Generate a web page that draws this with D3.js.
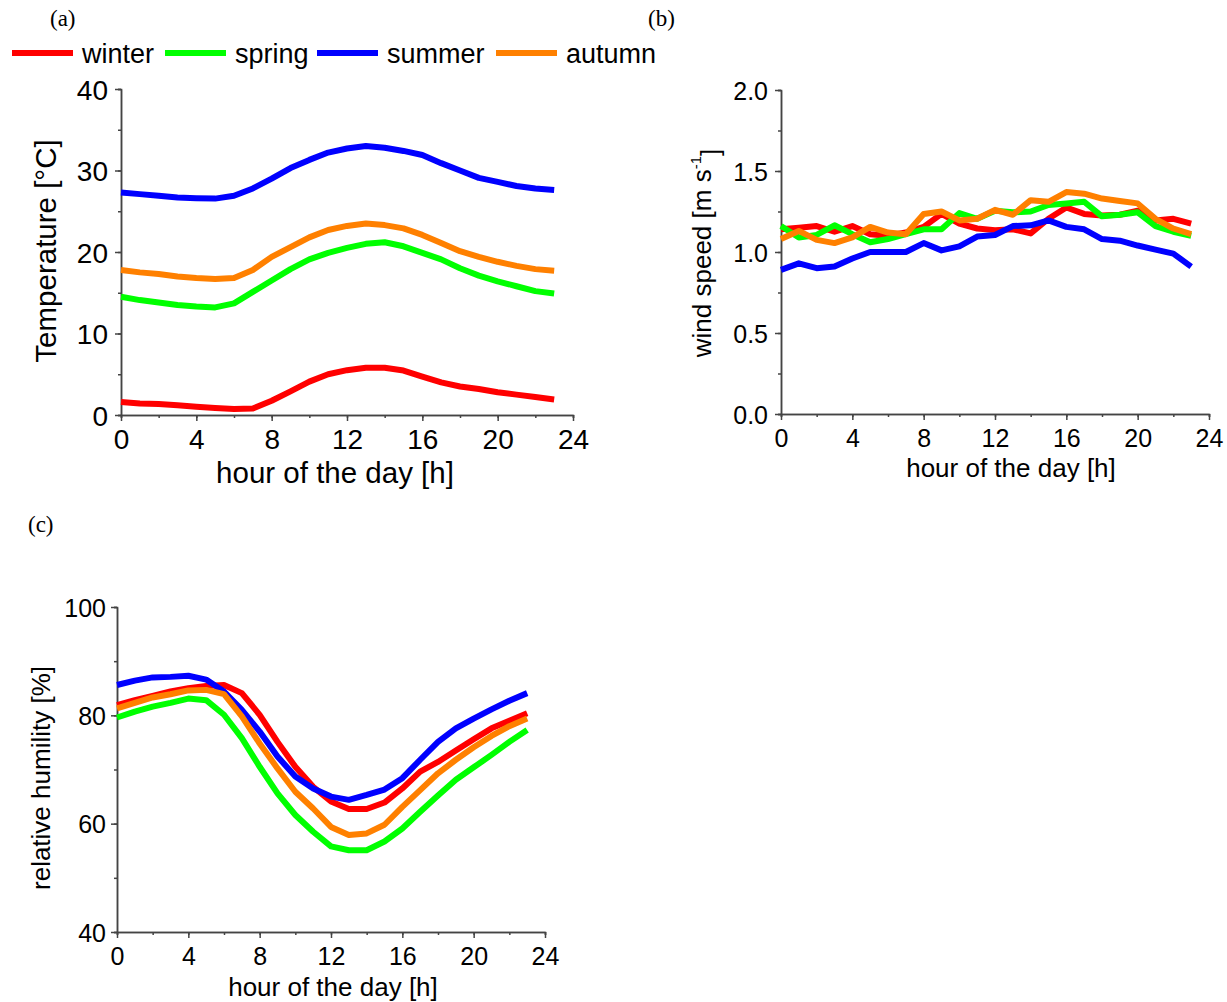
<!DOCTYPE html>
<html>
<head>
<meta charset="utf-8">
<script src="https://cdn.jsdelivr.net/npm/d3@7"></script>
<style>
  body { margin: 0; background: #fff; }
  svg { display: block; }
  text { font-family: "Liberation Sans", Arial, sans-serif; fill: #000; }
  .panel-label { font-family: "Liberation Serif", "Times New Roman", serif; }
</style>
</head>
<body>
<div id="chart"></div>
<script>
// seasons + colours
const seasons = ["winter", "spring", "summer", "autumn"];
const seasonColors = ["#ff0000", "#00ff00", "#0000ff", "#ff8000"];

const hours = d3.range(0, 24);
const hourTicks = [0, 4, 8, 12, 16, 20, 24];

// (a) temperature [°C]
const tempWinter = [1.6, 1.4, 1.35, 1.2, 1.0, 0.85, 0.75, 0.8, 1.75, 2.9, 4.1, 5.0, 5.5, 5.8, 5.8, 5.45, 4.7, 4.0, 3.5, 3.2, 2.8, 2.5, 2.2, 1.9];
const tempSpring = [14.5, 14.1, 13.8, 13.5, 13.3, 13.2, 13.7, 15.1, 16.5, 17.9, 19.1, 19.9, 20.5, 21.0, 21.2, 20.7, 19.9, 19.1, 18.0, 17.1, 16.4, 15.8, 15.2, 14.9];
const tempSummer = [27.3, 27.1, 26.9, 26.7, 26.6, 26.55, 26.9, 27.8, 29.0, 30.3, 31.3, 32.2, 32.7, 33.0, 32.8, 32.4, 31.9, 30.9, 30.0, 29.1, 28.6, 28.1, 27.8, 27.6];
const tempAutumn = [17.8, 17.5, 17.3, 17.0, 16.8, 16.7, 16.8, 17.8, 19.4, 20.6, 21.8, 22.7, 23.2, 23.5, 23.3, 22.9, 22.1, 21.1, 20.1, 19.4, 18.8, 18.3, 17.9, 17.7];
const tempTicks = [0, 10, 20, 30, 40];

// (b) wind speed [m/s]
const windWinter = [1.14, 1.15, 1.16, 1.125, 1.16, 1.11, 1.10, 1.12, 1.155, 1.235, 1.175, 1.145, 1.135, 1.14, 1.115, 1.205, 1.275, 1.235, 1.225, 1.23, 1.255, 1.195, 1.205, 1.175];
const windSpring = [1.16, 1.09, 1.105, 1.165, 1.11, 1.06, 1.08, 1.11, 1.14, 1.14, 1.24, 1.205, 1.255, 1.245, 1.25, 1.29, 1.30, 1.31, 1.22, 1.23, 1.245, 1.16, 1.125, 1.10];
const windSummer = [0.89, 0.93, 0.90, 0.91, 0.96, 1.00, 1.00, 1.00, 1.055, 1.01, 1.035, 1.095, 1.105, 1.16, 1.165, 1.195, 1.155, 1.14, 1.08, 1.07, 1.04, 1.015, 0.99, 0.91];
const windAutumn = [1.08, 1.13, 1.075, 1.055, 1.09, 1.155, 1.12, 1.11, 1.235, 1.25, 1.195, 1.205, 1.26, 1.23, 1.32, 1.31, 1.37, 1.36, 1.33, 1.315, 1.30, 1.205, 1.145, 1.11];
const windTicks = [0.0, 0.5, 1.0, 1.5, 2.0];

// (c) relative humidity [%]
const rhWinter = [81.9, 82.8, 83.6, 84.4, 85.0, 85.4, 85.6, 84.1, 80.1, 75.1, 70.5, 66.8, 64.1, 62.7, 62.7, 63.9, 66.5, 69.6, 71.4, 73.5, 75.6, 77.6, 79.0, 80.4];
const rhSpring = [79.6, 80.7, 81.6, 82.3, 83.1, 82.8, 80.1, 75.8, 70.5, 65.6, 61.6, 58.5, 55.8, 55.1, 55.1, 56.7, 59.1, 62.2, 65.2, 68.1, 70.4, 72.7, 75.1, 77.3];
const rhSummer = [85.6, 86.4, 87.0, 87.1, 87.3, 86.6, 84.4, 81.0, 77.0, 72.4, 68.7, 66.5, 65.0, 64.4, 65.3, 66.3, 68.4, 71.8, 75.1, 77.6, 79.4, 81.1, 82.7, 84.1];
const rhAutumn = [81.3, 82.3, 83.3, 83.9, 84.6, 84.7, 83.9, 79.8, 74.8, 70.2, 65.9, 62.8, 59.4, 57.9, 58.2, 59.8, 63.1, 66.2, 69.3, 71.8, 74.1, 76.2, 78.0, 79.4];
const rhTicks = [40, 60, 80, 100];

const width = 1227;
const height = 1002;

const svg = d3.select("#chart").append("svg")
  .attr("width", width)
  .attr("height", height);

function drawPanel(cfg) {
  const x = d3.scaleLinear().domain([0, 24]).range([cfg.x0, cfg.x1]);
  const y = d3.scaleLinear().domain(cfg.yDomain).range([cfg.y0, cfg.y1]);
  const g = svg.append("g");

  // minor ticks first, then major axis on top
  const xMinor = d3.axisBottom(x).tickValues(d3.range(0, 25, 2)).tickSize(3).tickFormat("");
  const yMinor = d3.axisLeft(y).tickValues(cfg.minorTicks).tickSize(3).tickFormat("");
  g.append("g").attr("class", "axis").attr("transform", `translate(0,${cfg.y0})`).call(xMinor);
  g.append("g").attr("class", "axis").attr("transform", `translate(${cfg.x0},0)`).call(yMinor);

  const xAxis = d3.axisBottom(x).tickValues(hourTicks).tickSize(6).tickSizeOuter(0).tickPadding(cfg.xPad);
  const yAxis = d3.axisLeft(y).tickValues(cfg.ticks).tickSize(6).tickSizeOuter(0).tickPadding(cfg.yPad)
    .tickFormat(cfg.fmt);
  const gx = g.append("g").attr("class", "axis").attr("transform", `translate(0,${cfg.y0})`).call(xAxis);
  const gy = g.append("g").attr("class", "axis").attr("transform", `translate(${cfg.x0},0)`).call(yAxis);

  g.selectAll(".axis path, .axis line").attr("stroke", "#444").attr("stroke-width", 1.5);
  gx.selectAll("text").style("font-size", cfg.tickFont + "px").attr("fill", "#000");
  gy.selectAll("text").style("font-size", cfg.tickFont + "px").attr("fill", "#000").attr("dy", "0.36em");

  // lines
  const line = d3.line().x((d, i) => x(hours[i])).y(d => y(d));
  cfg.series.forEach((vals, k) => {
    g.append("path")
      .attr("d", line(vals))
      .attr("fill", "none")
      .attr("stroke", seasonColors[k])
      .attr("stroke-width", cfg.lineWidth)
      .attr("stroke-linejoin", "round");
  });

  // axis titles
  g.append("text")
    .attr("x", cfg.xTitleX)
    .attr("y", cfg.xTitleY)
    .attr("text-anchor", "middle")
    .style("font-size", cfg.titleFont + "px")
    .text("hour of the day [h]");

  const yt = g.append("text")
    .attr("transform", `translate(${cfg.yTitleX},${cfg.yTitleY}) rotate(-90)`)
    .attr("text-anchor", "middle")
    .style("font-size", cfg.titleFont + "px");
  cfg.yTitle(yt);

  g.append("text")
    .attr("class", "panel-label")
    .attr("x", cfg.labelX)
    .attr("y", cfg.labelY)
    .style("font-size", "23px")
    .text(cfg.label);
}

// (a)
drawPanel({
  x0: 121, x1: 573, y0: 415, y1: 89,
  yDomain: [0, 40], ticks: tempTicks, minorTicks: d3.range(0, 41, 5),
  fmt: d3.format("d"),
  series: [tempWinter, tempSpring, tempSummer, tempAutumn],
  tickFont: 28, titleFont: 29.5, lineWidth: 6, xPad: 8, yPad: 7,
  xTitleX: 335, xTitleY: 483, yTitleX: 56, yTitleY: 251,
  yTitle: t => t.text("Temperature [°C]"),
  label: "(a)", labelX: 50, labelY: 26
});

// (b)
drawPanel({
  x0: 781, x1: 1209, y0: 414, y1: 90,
  yDomain: [0, 2], ticks: windTicks, minorTicks: d3.range(0, 2.01, 0.25),
  fmt: d3.format(".1f"),
  series: [windWinter, windSpring, windSummer, windAutumn],
  tickFont: 25, titleFont: 26, lineWidth: 6, xPad: 9, yPad: 7,
  xTitleX: 1011, xTitleY: 477, yTitleX: 711, yTitleY: 253,
  yTitle: t => {
    t.append("tspan").text("wind speed [m s");
    t.append("tspan").attr("dy", "-0.7em").style("font-size", "15px").text("-1");
    t.append("tspan").attr("dy", "0.7em").text("]");
  },
  label: "(b)", labelX: 648, labelY: 26
});

// (c)
drawPanel({
  x0: 117, x1: 545, y0: 932, y1: 607,
  yDomain: [40, 100], ticks: rhTicks, minorTicks: d3.range(40, 101, 10),
  fmt: d3.format("d"),
  series: [rhWinter, rhSpring, rhSummer, rhAutumn],
  tickFont: 25, titleFont: 26, lineWidth: 6, xPad: 9, yPad: 5,
  xTitleX: 333, xTitleY: 996, yTitleX: 50, yTitleY: 778,
  yTitle: t => t.text("relative humility [%]"),
  label: "(c)", labelX: 28, labelY: 532
});

// legend
const legendX = [12, 165, 317, 496];
const legend = svg.append("g");
seasons.forEach((s, i) => {
  legend.append("line")
    .attr("x1", legendX[i]).attr("x2", legendX[i] + 61)
    .attr("y1", 53).attr("y2", 53)
    .attr("stroke", seasonColors[i])
    .attr("stroke-width", 6);
  legend.append("text")
    .attr("x", legendX[i] + 70)
    .attr("y", 53)
    .attr("dy", "0.36em")
    .style("font-size", "27px")
    .text(s);
});
</script>
</body>
</html>
